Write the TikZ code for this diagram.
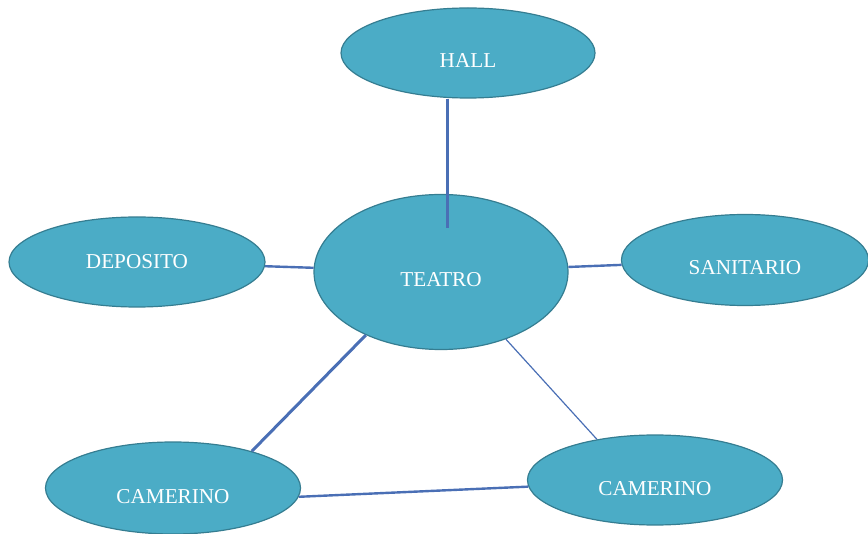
\documentclass[tikz,border=0pt]{standalone}
\usepackage{fontspec}
\setmainfont{Liberation Serif}
\usepackage{xcolor}
\usetikzlibrary{shapes.geometric}

\definecolor{bubblefill}{HTML}{4BACC6}
\definecolor{bubbleline}{HTML}{357D91}
\definecolor{linkblue}{HTML}{4A6FB5}

\tikzset{
    bubble/.style={ellipse, draw=bubbleline, line width=0.6pt, fill=bubblefill,
        text=white, font=\fontsize{10.6}{12}\selectfont, inner sep=0pt,
        text height=15pt, text depth=0pt},
    link/.style={draw=linkblue, line width=1.2pt}
}

\begin{document}
\begin{tikzpicture}[x=0.5pt, y=-0.5pt]
    \useasboundingbox (0,0) rectangle (868,534);
    % Bubbles
    \node[bubble, minimum width=127pt, minimum height=45pt] (hall) at (468,53) {HALL};
    \node[bubble, minimum width=127pt, minimum height=77.5pt] (teatro) at (441,272) {TEATRO};
    \node[bubble, minimum width=128pt, minimum height=45pt, text height=7pt] (deposito) at (137,262) {DEPOSITO};
    \node[bubble, minimum width=123.5pt, minimum height=45.5pt] (sanitario) at (745,260) {SANITARIO};
    \node[bubble, minimum width=127.5pt, minimum height=46pt] (camizq) at (173,488) {CAMERINO};
    \node[bubble, minimum width=127.5pt, minimum height=45pt] (camder) at (655,480) {CAMERINO};
    % Links
    \coordinate (hallend) at (447,228);
    \draw[link, line width=1.5pt] (hallend |- hall.south) -- (hallend);
    \draw[link] (deposito) -- (teatro);
    \draw[link] (teatro) -- (sanitario);
    \draw[link, line width=1.5pt] (teatro.220) -- (camizq.25);
    \draw[link, line width=0.6pt] (teatro.314) -- (camder.145);
    \draw[link] (camizq.-4) -- (camder.183);
\end{tikzpicture}
\end{document}
